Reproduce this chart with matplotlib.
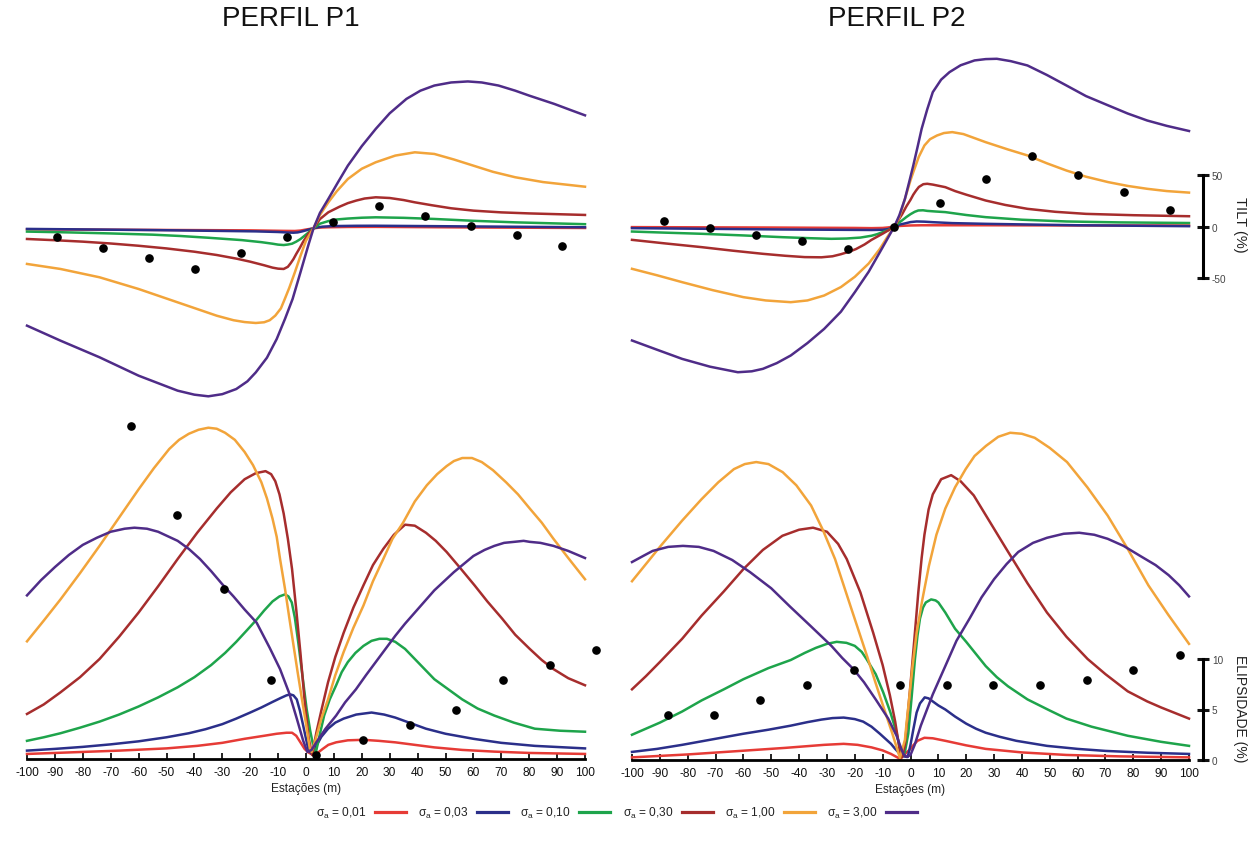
import matplotlib
matplotlib.use("Agg")
import matplotlib.pyplot as plt
from matplotlib.lines import Line2D

plt.rcParams['font.family'] = ['Liberation Sans', 'DejaVu Sans']
plt.rcParams['mathtext.fontset'] = 'custom'
plt.rcParams['mathtext.rm'] = 'Liberation Sans'

# ---------------- legend / series ----------------
sigma_labels = ['0,01', '0,03', '0,10', '0,30', '1,00', '3,00']
colors = ['#e63b36', '#2b2f8a', '#1ea44b', '#a62d2d', '#f2a43a', '#4f2c88']

# ---------------- PERFIL P1 : TILT (%) ----------------
p1t_x_001 = [-100, -60, -20, -8, -4, -2, 0, 2.7, 5, 8, 15, 25, 60, 100]
p1t_y_001 = [-1.0, -1.5, -2.0, -2.5, -2.6, -2.2, -1.2, 0, 0.7, 1.0, 1.3, 1.4, 0.8, 0.3]
p1t_x_003 = [-100, -75, -53, -35, -18, -10, -6, -4.5, -3, -1.5, 0, 1.3, 2.7, 4.3, 6, 8.5, 11, 18, 25, 40, 60, 80, 100]
p1t_y_003 = [-0.6, -1.2, -1.8, -2.4, -3.0, -3.6, -4.2, -4.3, -4.0, -3.1, -2.0, -1.0, 0, 1.0, 1.6, 2.0, 2.2, 2.45, 2.5, 2.2, 1.8, 1.4, 1.0]
p1t_x_010 = [-100, -85, -70, -55, -45, -35, -23, -16, -12, -10, -8, -6.5, -5, -3.5, -2, 0.5, 2.7, 5, 8, 11, 15, 20, 25, 35, 46, 60, 75, 100]
p1t_y_010 = [-3.2, -4.0, -5.0, -6.2, -7.5, -9.2, -11.5, -13.5, -15.0, -15.9, -16.3, -15.8, -15.0, -13.0, -10.5, -5.0, 0, 4.5, 7.0, 8.6, 9.5, 10.3, 10.7, 10.2, 9.1, 7.3, 5.8, 4.0]
p1t_x_030 = [-100, -90, -80, -70, -60, -50, -40, -32, -25, -20, -15, -12, -10, -8, -6.5, -5.5, -4.5, -3.5, -2.2, -1, 0.8, 2.7, 5, 8, 12, 15, 18, 21, 25, 30, 35, 39, 45, 52, 60, 70, 80, 100]
p1t_y_030 = [-10.4, -11.6, -13.0, -14.8, -17.0, -19.6, -22.8, -26.0, -29.5, -32.5, -36.0, -38.3, -39.3, -39.6, -37.5, -34.0, -30.0, -25.0, -19.0, -13.0, -5.5, 0, 9.0, 15.6, 21.0, 24.5, 27.0, 29.0, 30.2, 29.5, 27.5, 25.3, 22.5, 19.5, 17.2, 15.5, 14.5, 13.0]
p1t_x_100 = [-100, -88, -74, -60, -46, -32, -26, -22, -18, -15, -13, -11, -9, -7.6, -6, -4, -2, 0, 2.7, 5, 8, 11, 15, 20, 25, 32, 39, 46, 53, 60, 67, 75, 85, 100]
p1t_y_100 = [-34.7, -39.6, -47.7, -59.1, -72.1, -85.1, -89.5, -91.3, -92.2, -91.5, -89.5, -85.0, -78.0, -68.8, -58.0, -42.9, -27.0, -12.0, 0, 13.0, 25.3, 36.0, 48.0, 58.0, 64.3, 70.8, 74.0, 72.4, 67.0, 61.0, 55.0, 49.7, 45.0, 40.5]
p1t_x_300 = [-100, -88, -74, -60, -46, -40, -35, -30, -25, -21, -18, -14, -10.5, -7.5, -4.8, -2, -0.6, 1, 2.7, 5, 8, 11.5, 15, 20, 25, 30, 36, 41, 46, 52, 58, 63, 69, 75, 80, 89, 95, 100]
p1t_y_300 = [-94.8, -109.4, -125.6, -143.5, -158.1, -162.0, -163.6, -161.5, -156.5, -149.0, -140.3, -126.0, -107.8, -88.0, -68.8, -43.0, -29.9, -15.0, 0, 15.0, 28.6, 45.0, 61.0, 80.0, 96.8, 112.0, 126.0, 134.0, 139.0, 142.0, 143.0, 142.0, 139.0, 134.0, 129.2, 121.1, 115.0, 110.0]
p1t_obs_x = [-89.1, -72.7, -56.2, -39.8, -23.4, -6.8, 9.7, 26.1, 42.6, 59, 75.5, 91.9]
p1t_obs_y = [-8.4, -18.8, -28.6, -39.3, -24, -8.4, 6.2, 21.8, 11.7, 2.6, -6.5, -16.9]

# ---------------- PERFIL P2 : TILT (%) ----------------
p2t_x_001 = [-100, -50, -20, -14, -10, -8, -5.8, -3.5, 0, 4, 27, 60, 100]
p2t_y_001 = [-0.6, -1.0, -1.4, -1.6, -1.4, -0.9, 0, 0.6, 1.0, 1.2, 1.2, 1.0, 1.0]
p2t_x_003 = [-100, -46, -20, -14, -10, -8, -5.8, -4, -2, 0, 2.2, 5, 8, 15, 27, 60, 100]
p2t_y_003 = [-1.6, -2.9, -3.3, -3.4, -3.2, -2.5, 0, 1.8, 3.0, 4.3, 4.9, 4.7, 4.2, 3.3, 2.6, 1.2, 0.3]
p2t_x_010 = [-100, -88, -75, -60, -46, -36, -28.4, -23, -18, -14, -12, -8, -5.8, -4, -3, -1.5, 0, 1.5, 2.8, 4.5, 6, 9, 12.5, 20, 27, 40, 56, 75, 100]
p2t_y_010 = [-4.9, -6.0, -7.1, -8.7, -10.4, -11.4, -12.0, -11.7, -10.8, -9.0, -7.5, -3.5, 0, 4.0, 6.0, 9.2, 12.0, 14.3, 15.6, 15.8, 15.2, 14.6, 14.0, 11.2, 9.1, 6.6, 4.9, 4.0, 3.4]
p2t_x_030 = [-100, -88, -75, -64, -53, -45, -38, -32, -28, -25, -22, -19.6, -16.5, -14, -10, -8, -5.8, -4.5, -3, -1.5, 0, 1, 2, 3, 4.6, 6, 8, 12.5, 16, 20, 27, 34, 42, 52, 63, 80, 100]
p2t_y_030 = [-13.0, -16.5, -20.1, -23.5, -26.6, -28.5, -29.8, -30.0, -29.0, -27.0, -24.5, -22.0, -17.5, -13.0, -7.0, -3.8, 0, 5.5, 12.0, 19.5, 26.0, 31.0, 35.0, 38.5, 41.2, 41.6, 40.8, 38.3, 34.5, 31.0, 25.3, 21.0, 17.2, 14.3, 12.3, 11.0, 10.0]
p2t_x_100 = [-100, -91, -82, -71, -60, -52, -43, -37, -31, -25, -20, -15, -11, -8.5, -5.8, -4, -2, 0, 1, 3, 5, 7, 9.5, 12, 15, 19, 27, 35, 42, 49, 56, 63, 71, 78, 85, 92, 100]
p2t_y_100 = [-41.2, -47.5, -54.2, -62.0, -68.8, -72.0, -73.7, -72.0, -67.2, -59.0, -49.0, -36.0, -21.8, -11.0, 0, 9.0, 26.9, 45.0, 52.9, 68.0, 78.9, 85.0, 88.6, 91.0, 91.9, 90.0, 82.1, 75.0, 69.2, 61.5, 54.5, 48.5, 43.2, 39.5, 36.7, 34.5, 33.0]
p2t_x_300 = [-100, -91, -82, -72, -62, -57, -53, -48, -43, -37, -31, -25, -20, -15, -11, -8.5, -5.8, -4, -2, -0.5, 1, 2.5, 4, 6, 8, 11, 14, 18, 23, 27, 31, 36, 42, 49, 56, 63, 71, 78, 85, 92, 100]
p2t_y_300 = [-111.0, -120.0, -128.9, -136.5, -141.9, -141.0, -138.6, -133.0, -125.6, -113.5, -99.7, -83.0, -64.0, -44.0, -25.0, -13.0, 0, 11.0, 26.9, 43.0, 59.4, 77.0, 95.1, 114.0, 130.8, 143.0, 150.3, 157.0, 161.7, 163.0, 163.3, 161.0, 156.8, 147.5, 137.3, 127.0, 117.9, 110.0, 103.2, 98.0, 93.0]
p2t_obs_x = [-88.5, -71.9, -55.4, -38.9, -22.4, -5.8, 10.7, 27, 43.5, 60, 76.5, 93]
p2t_obs_y = [4.9, -1.6, -8.1, -14.3, -21.8, 0, 23.1, 45.8, 68.5, 50.3, 33.8, 15.6]

# ---------------- PERFIL P1 : ELIPSIDADE (%) ----------------
p1e_x_001 = [-100, -80, -67, -50, -39, -30, -22, -15, -10.5, -7, -5, -3.5, -2, -0.5, 0.8, 2.2, 3.7, 6, 8, 10.8, 15, 20.6, 26, 32, 39, 46, 56, 67.5, 80, 100]
p1e_y_001 = [0.5, 0.7, 0.83, 1.05, 1.3, 1.6, 2.0, 2.3, 2.5, 2.6, 2.6, 2.3, 1.65, 1.0, 0.66, 0.45, 0.5, 1.0, 1.4, 1.65, 1.85, 1.9, 1.8, 1.65, 1.4, 1.15, 0.9, 0.73, 0.6, 0.5]
p1e_x_003 = [-100, -90, -80, -70, -60, -50, -42, -36, -30, -25, -20, -16, -12, -9, -7, -5.7, -4.5, -3.3, -2.2, -1, 0, 0.8, 2, 3.7, 5.5, 7.9, 10.5, 13.5, 18, 23.5, 28, 32, 37, 43, 50, 60, 70, 82, 100]
p1e_y_003 = [0.83, 1.0, 1.2, 1.45, 1.75, 2.15, 2.55, 2.95, 3.45, 4.0, 4.6, 5.1, 5.65, 6.05, 6.3, 6.4, 6.3, 5.9, 4.8, 3.3, 2.0, 1.0, 0.5, 1.3, 2.2, 3.0, 3.6, 4.0, 4.4, 4.6, 4.4, 4.1, 3.6, 3.0, 2.5, 2.0, 1.6, 1.3, 1.05]
p1e_x_010 = [-100, -94, -88, -81, -74, -67, -60, -53, -46, -40, -34, -29, -25, -21, -17.7, -15, -12, -9.5, -7.5, -6.3, -5.1, -4, -2.8, -1.3, 0.2, 1.5, 2.6, 3.5, 5, 6.5, 8.5, 10.8, 12.8, 15, 17.7, 20.6, 23.5, 26.3, 29, 32, 35.5, 39, 42.5, 46, 50.5, 56, 61.5, 67.5, 74.5, 82, 91, 100]
p1e_y_010 = [1.8, 2.15, 2.55, 3.1, 3.7, 4.4, 5.2, 6.1, 7.1, 8.1, 9.3, 10.5, 11.6, 12.8, 13.8, 14.7, 15.6, 16.1, 16.3, 16.1, 15.5, 14.0, 11.6, 8.3, 5.0, 2.8, 1.3, 0.6, 2.5, 4.3, 5.9, 7.3, 8.6, 9.6, 10.5, 11.2, 11.7, 11.9, 11.9, 11.6, 10.9, 9.9, 8.9, 7.9, 7.0, 5.9, 5.0, 4.3, 3.6, 3.0, 2.8, 2.7]
p1e_x_030 = [-100, -94, -88, -81, -74, -67, -60, -53, -46, -39, -32, -27, -22, -18, -14.5, -12.5, -11, -9.5, -8, -6.5, -5, -3.5, -2, -0.5, 1, 2.2, 3.7, 5.5, 7.9, 10.5, 13.5, 17, 20.6, 24, 27.7, 31.5, 35.5, 39, 43, 46.5, 50.4, 55, 60.4, 65, 70.3, 75, 80.2, 84.5, 88.7, 94, 100]
p1e_y_030 = [4.46, 5.4, 6.6, 8.1, 9.9, 12.1, 14.5, 17.1, 19.8, 22.4, 24.8, 26.4, 27.7, 28.3, 28.5, 28.2, 27.5, 26.2, 24.3, 21.8, 18.8, 14.8, 10.5, 5.8, 2.0, 0.4, 2.6, 4.8, 7.6, 10.1, 12.5, 15.0, 17.2, 19.2, 20.8, 22.2, 23.2, 23.1, 22.4, 21.6, 20.5, 19.0, 17.2, 15.6, 13.9, 12.3, 10.9, 9.8, 8.9, 8.0, 7.3]
p1e_x_100 = [-100, -94, -88, -81, -74, -67, -60, -54.5, -49, -45.5, -42, -38.5, -35, -32, -29, -25.5, -22, -19, -16, -14, -12, -10.5, -9.3, -7.5, -6, -4.5, -3, -1.5, 0, 0.7, 1.4, 2, 3.5, 5.5, 7.9, 10.5, 13.5, 17, 20.6, 24, 27.7, 31, 34.8, 39, 43.3, 47, 50.4, 53, 56, 59.5, 63, 67, 71.7, 76, 80.2, 84.5, 88.7, 94, 100]
p1e_y_100 = [11.65, 13.7, 15.8, 18.4, 21.1, 23.9, 26.7, 28.8, 30.7, 31.6, 32.2, 32.6, 32.8, 32.7, 32.3, 31.6, 30.4, 29.1, 27.4, 25.8, 23.8, 22.0, 19.8, 16.8, 14.0, 11.3, 8.6, 6.0, 3.5, 2.2, 1.0, 0.7, 2.0, 4.0, 5.9, 8.3, 10.6, 13.0, 15.2, 17.6, 19.8, 21.8, 23.4, 25.5, 27.1, 28.2, 29.0, 29.5, 29.8, 29.8, 29.4, 28.6, 27.4, 26.2, 24.8, 23.4, 21.8, 19.9, 17.8]
p1e_x_300 = [-100, -95, -90, -85, -80, -75, -70, -65, -61.5, -57, -53, -46, -42, -38, -34, -30, -26, -22, -17.7, -13, -9.3, -6, -3.3, -1, 0.5, 2, 3.7, 7, 10.8, 14, 17.9, 21.5, 25, 28.5, 32, 35.5, 39, 42.5, 46, 49.5, 53, 56.5, 60, 64, 67.5, 71, 74.6, 78, 80.2, 84, 88.7, 94, 100]
p1e_y_300 = [16.2, 17.7, 19.0, 20.2, 21.2, 21.9, 22.5, 22.8, 22.9, 22.8, 22.5, 21.6, 20.8, 19.8, 18.6, 17.3, 16.1, 14.8, 13.5, 11.0, 8.9, 6.5, 4.0, 1.8, 0.7, 0.9, 1.65, 3.0, 4.3, 5.6, 6.9, 8.3, 9.6, 10.9, 12.2, 13.4, 14.5, 15.6, 16.7, 17.6, 18.5, 19.3, 20.1, 20.7, 21.1, 21.4, 21.5, 21.6, 21.5, 21.4, 21.1, 20.6, 19.9]
p1e_obs_x = [-62.9, -46.2, -29.3, -12.7, 3.7, 20.6, 37.2, 53.9, 70.6, 87.3, 103.9]
p1e_obs_y = [33.0, 24.2, 16.8, 7.8, 0.4, 1.9, 3.4, 4.9, 7.8, 9.3, 10.8]

# ---------------- PERFIL P2 : ELIPSIDADE (%) ----------------
p2e_x_001 = [-100, -80, -60, -45, -31, -24, -19, -14, -10, -7, -5, -3.6, -2, 0, 0.8, 2.5, 5, 8, 12.5, 20, 27, 40, 56, 75, 100]
p2e_y_001 = [0.26, 0.55, 0.92, 1.2, 1.5, 1.6, 1.5, 1.25, 0.95, 0.6, 0.3, 0.1, 0.6, 1.1, 1.4, 1.9, 2.2, 2.15, 1.9, 1.45, 1.1, 0.75, 0.5, 0.36, 0.26]
p2e_x_003 = [-100, -91, -82, -71, -60, -51, -43, -37, -32, -28, -24, -20, -17, -14, -11, -9, -7, -5.5, -3.8, -2.3, -1, 0, 1, 2.2, 3.4, 5.1, 6.5, 8, 10, 12.5, 16, 20, 23.5, 27, 32, 38, 49, 60, 70, 85, 100]
p2e_y_003 = [0.8, 1.1, 1.5, 2.05, 2.6, 3.0, 3.4, 3.75, 4.0, 4.15, 4.2, 4.05, 3.8, 3.3, 2.6, 2.1, 1.6, 1.1, 0.6, 0.35, 0.3, 1.5, 3.0, 4.7, 5.6, 6.2, 6.1, 5.8, 5.4, 5.0, 4.3, 3.6, 3.1, 2.7, 2.3, 1.9, 1.4, 1.1, 0.9, 0.72, 0.6]
p2e_x_010 = [-100, -95, -90, -82, -75, -67, -60, -51, -43, -38, -34, -30, -26.5, -23, -20, -17.5, -15.8, -12.5, -9.8, -7.2, -5, -3.2, -2, -0.8, 0.4, 1.6, 2.5, 3.4, 4.5, 5.5, 7.4, 9, 10, 12.5, 16, 20, 23.5, 27, 31, 35, 42, 50, 56, 65, 78, 90, 100]
p2e_y_010 = [2.5, 3.1, 3.7, 4.8, 5.9, 7.0, 8.0, 9.1, 9.9, 10.6, 11.1, 11.5, 11.7, 11.6, 11.3, 10.7, 10.0, 8.5, 6.7, 4.7, 2.7, 0.3, 0.8, 2.6, 6.2, 10.0, 12.3, 14.0, 15.1, 15.6, 15.9, 15.8, 15.6, 14.6, 13.0, 11.7, 10.5, 9.3, 8.2, 7.3, 6.0, 4.9, 4.1, 3.3, 2.4, 1.8, 1.4]
p2e_x_030 = [-100, -95, -90, -82, -75, -67, -60, -53, -46, -40, -35, -30, -26, -22.9, -18, -13.4, -10, -7.4, -5.5, -3.6, -3, -2, -1, 0, 1.4, 2.8, 4, 5, 6.5, 8, 11, 14.6, 18, 22.7, 28, 34.4, 42, 49, 56, 63.6, 70, 78, 85, 90, 100]
p2e_y_030 = [7.0, 8.3, 9.7, 12.0, 14.3, 16.7, 18.9, 20.8, 22.2, 22.8, 23.0, 22.6, 21.4, 19.9, 16.6, 12.6, 9.4, 6.4, 3.8, 0.5, 0.3, 1.5, 4.5, 7.5, 12.0, 16.6, 20.0, 22.3, 24.8, 26.3, 27.8, 28.2, 27.6, 26.2, 23.8, 20.9, 17.5, 14.6, 12.2, 10.0, 8.5, 6.8, 5.8, 5.2, 4.1]
p2e_x_100 = [-100, -95, -89.7, -82, -75.1, -69, -63.4, -59.5, -55.4, -51, -45.9, -41, -35.7, -31.5, -27.1, -21.5, -15.5, -12.5, -9.4, -6.5, -3.8, -2, -1.4, -0.7, 0.7, 2.2, 4.2, 6.6, 9.3, 12.5, 16, 19.8, 23, 27.1, 31.5, 35.8, 40, 44.6, 50, 56.2, 63.5, 70.8, 78, 85.4, 92.5, 100]
p2e_y_100 = [17.7, 19.4, 21.2, 23.7, 25.8, 27.5, 28.8, 29.3, 29.5, 29.3, 28.5, 27.2, 25.2, 22.8, 19.9, 15.2, 10.2, 7.6, 5.0, 2.6, 0.2, 2.0, 3.7, 5.5, 9.2, 12.6, 15.8, 19.2, 22.3, 24.9, 27.0, 28.8, 30.1, 31.1, 32.0, 32.4, 32.3, 31.9, 30.9, 29.5, 27.0, 24.2, 20.9, 17.3, 14.4, 11.5]
p2e_x_300 = [-100, -96, -92.6, -87, -81.7, -76, -70.7, -64, -57.6, -50, -43.3, -36, -28.4, -24.5, -20.5, -16.7, -12.5, -8, -5, -2.6, -1.3, 0, 1.5, 3.7, 8, 12.5, 16.5, 21.2, 25.5, 30, 34.5, 38.7, 44, 49, 55, 60.6, 66, 70.8, 76.5, 82.5, 88, 92.7, 96.5, 100]
p2e_y_300 = [19.6, 20.2, 20.7, 21.1, 21.2, 21.1, 20.7, 19.8, 18.6, 17.0, 15.2, 13.3, 11.3, 10.1, 9.0, 7.7, 6.0, 4.1, 2.4, 0.6, 0.3, 0.5, 1.5, 3.4, 6.5, 9.3, 11.8, 14.0, 16.1, 17.9, 19.4, 20.6, 21.5, 22.0, 22.4, 22.5, 22.3, 21.9, 21.2, 20.2, 19.3, 18.3, 17.3, 16.2]
p2e_obs_x = [-87.2, -70.7, -54, -37.2, -20.4, -3.6, 13.2, 29.7, 46.5, 63.5, 80, 96.7]
p2e_obs_y = [4.5, 4.5, 5.9, 7.4, 8.9, 7.4, 7.4, 7.4, 7.4, 7.9, 8.9, 10.4]

x_ticks = list(range(-100, 101, 10))
tilt_ticks = [-50, 0, 50]
elip_ticks = [0, 5, 10]

# ---------------- layout (pixels) ----------------
W, H = 1257, 853
fig = plt.figure(figsize=(W / 100, H / 100), dpi=100)

YTOP = 40
TILT_PX = 1.027     # px per tilt unit
ELIP_PX = 10.1      # px per ellipticity unit


def rect(x0, x1, ytop, ybot):
    return [x0 / W, 1 - ybot / H, (x1 - x0) / W, (ybot - ytop) / H]


def make_panel(x0, x1, ybase, yzero_tilt):
    r = rect(x0, x1, YTOP, ybase)
    ax_e = fig.add_axes(r)
    ax_t = fig.add_axes(r)
    for ax in (ax_e, ax_t):
        ax.set_xlim(-100, 100)
        ax.patch.set_alpha(0)
        for s in ax.spines.values():
            s.set_visible(False)
    ax_e.set_ylim(0, (ybase - YTOP) / ELIP_PX)
    ax_t.set_ylim(-(ybase - yzero_tilt) / TILT_PX, (yzero_tilt - YTOP) / TILT_PX)
    ax_t.set_xticks([])
    ax_t.set_yticks([])
    ax_e.set_yticks([])
    ax_e.spines['bottom'].set_visible(True)
    ax_e.spines['bottom'].set_linewidth(2.0)
    ax_e.set_xticks(x_ticks)
    ax_e.set_xticklabels([str(v) for v in x_ticks])
    ax_e.tick_params(axis='x', direction='in', length=4.5, width=1.3,
                     labelsize=8.6, pad=5, colors='#111111')
    ax_e.set_xlabel('Estações (m)', fontsize=8.6, labelpad=3, color='#222222')
    return ax_e, ax_t


ax1e, ax1t = make_panel(27, 585, 760, 229.3)
ax2e, ax2t = make_panel(632, 1189, 761, 227.5)

panels = [
    (ax1t, [(p1t_x_001, p1t_y_001), (p1t_x_003, p1t_y_003), (p1t_x_010, p1t_y_010),
            (p1t_x_030, p1t_y_030), (p1t_x_100, p1t_y_100), (p1t_x_300, p1t_y_300)],
     p1t_obs_x, p1t_obs_y),
    (ax2t, [(p2t_x_001, p2t_y_001), (p2t_x_003, p2t_y_003), (p2t_x_010, p2t_y_010),
            (p2t_x_030, p2t_y_030), (p2t_x_100, p2t_y_100), (p2t_x_300, p2t_y_300)],
     p2t_obs_x, p2t_obs_y),
    (ax1e, [(p1e_x_001, p1e_y_001), (p1e_x_003, p1e_y_003), (p1e_x_010, p1e_y_010),
            (p1e_x_030, p1e_y_030), (p1e_x_100, p1e_y_100), (p1e_x_300, p1e_y_300)],
     p1e_obs_x, p1e_obs_y),
    (ax2e, [(p2e_x_001, p2e_y_001), (p2e_x_003, p2e_y_003), (p2e_x_010, p2e_y_010),
            (p2e_x_030, p2e_y_030), (p2e_x_100, p2e_y_100), (p2e_x_300, p2e_y_300)],
     p2e_obs_x, p2e_obs_y),
]

for ax, curves, ox, oy in panels:
    for (cx, cy), c in zip(curves, colors):
        ax.plot(cx, cy, color=c, lw=1.8, solid_joinstyle='round', clip_on=False, zorder=2)
    ax.plot(ox, oy, 'o', color='black', ms=5.2, clip_on=False, zorder=5)

# ---------------- scale bars on the right ----------------
bar_pos = (1203 - 632) / (1189 - 632)
for ax, ticks, bounds in ((ax2t, tilt_ticks, (-50, 50)), (ax2e, elip_ticks, (0, 10))):
    sp = ax.spines['right']
    sp.set_visible(True)
    sp.set_position(('axes', bar_pos))
    sp.set_bounds(*bounds)
    sp.set_linewidth(2.2)
    ax.yaxis.set_ticks_position('right')
    ax.set_yticks(ticks)
    ax.set_yticklabels([str(t) for t in ticks])
    ax.tick_params(axis='y', direction='inout', length=9, width=2.2,
                   labelsize=7.2, pad=2, colors='#111111', labelcolor='#444444',
                   left=False, labelleft=False, right=True, labelright=True)

fig.text(1240 / W, 1 - 225 / H, 'TILT (%)', rotation=-90, ha='center', va='center',
         fontsize=10.5, color='#222222')
fig.text(1240 / W, 1 - 709 / H, 'ELIPSIDADE (%)', rotation=-90, ha='center', va='center',
         fontsize=10, color='#222222')

# ---------------- titles ----------------
fig.text(291 / W, 1 - 19 / H, 'PERFIL P1', ha='center', va='center', fontsize=20, color='#111111')
fig.text(897 / W, 1 - 19 / H, 'PERFIL P2', ha='center', va='center', fontsize=20, color='#111111')

# ---------------- legend ----------------
leg_y = 1 - 813 / H
for i, (lab, c) in enumerate(zip(sigma_labels, colors)):
    xt = 316 + 102.2 * i
    fig.text(xt / W, leg_y, 'σ$_\\mathregular{a}$ = ' + lab, ha='left', va='center',
             fontsize=8.6, color='#222222')
    xl = xt + 59
    fig.add_artist(Line2D([xl / W, (xl + 31) / W], [leg_y, leg_y], transform=fig.transFigure,
                          color=c, lw=2.3))

fig.savefig('out.png', dpi=100)
